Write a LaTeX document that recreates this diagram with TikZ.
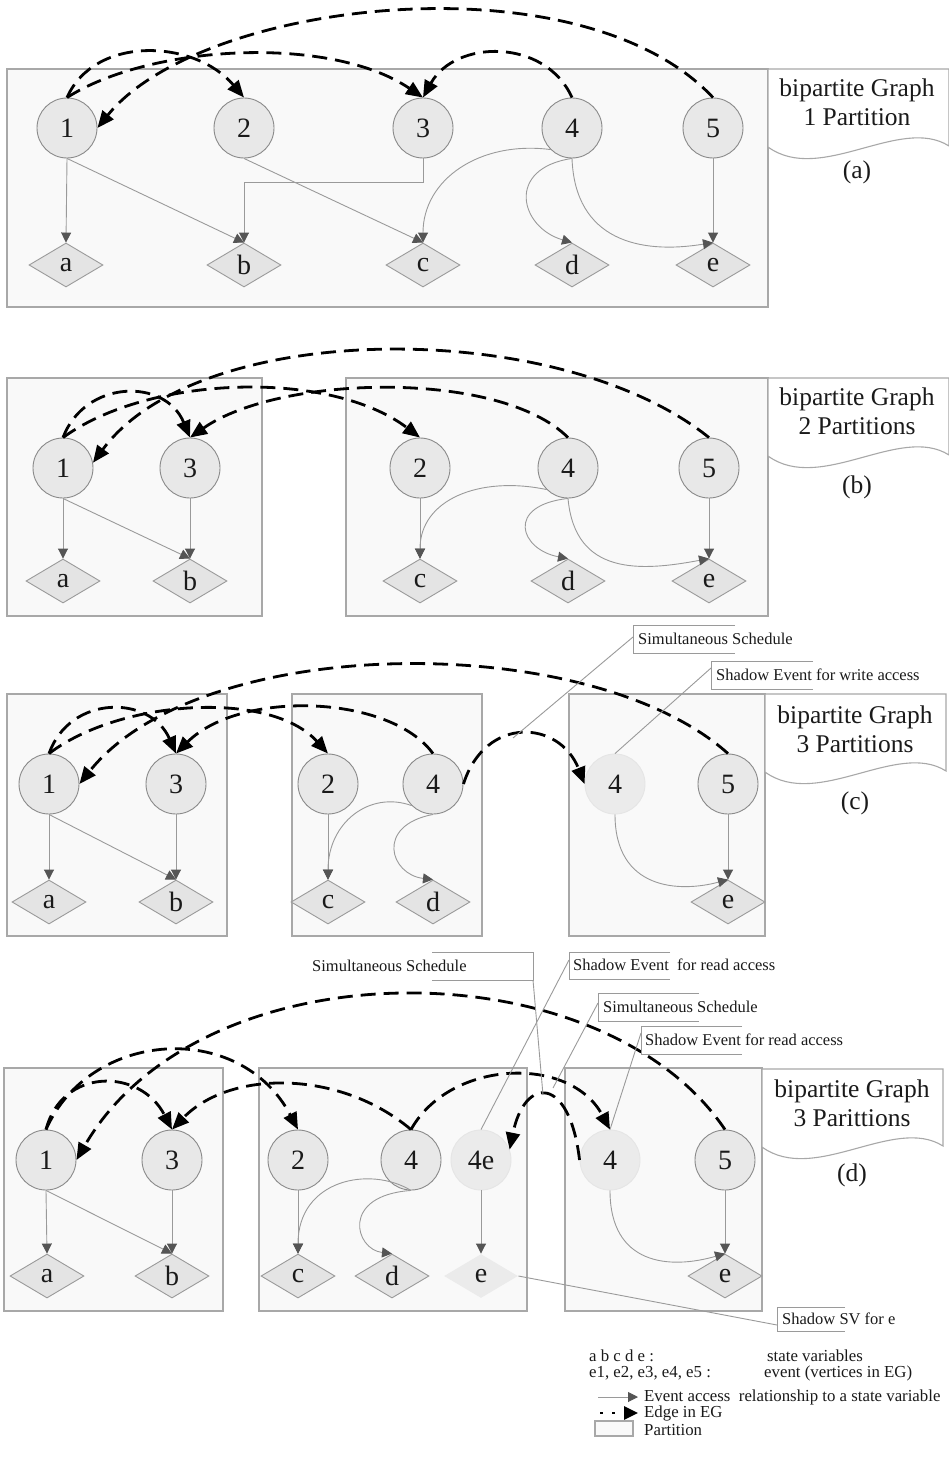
\documentclass[tikz,border=0pt]{standalone}
\usepackage{fontspec}
\setmainfont{Liberation Serif}
\usetikzlibrary{shapes.geometric,arrows.meta}

\definecolor{nodefill}{HTML}{E8E8E8}
\definecolor{nodeline}{HTML}{8A8A8A}
\definecolor{svfill}{HTML}{E4E4E4}
\definecolor{shadowfill}{HTML}{EBEBEB}
\definecolor{partfill}{HTML}{F9F9F9}
\definecolor{partline}{HTML}{A8A8A8}
\definecolor{accline}{HTML}{9A9A9A}
\definecolor{acctip}{HTML}{555555}
\definecolor{inkdark}{HTML}{1A1A1A}

\tikzset{
  event/.style={circle, minimum size=60pt, inner sep=0pt, draw=nodeline, line width=0.9pt,
    fill=nodefill, text=inkdark, font=\fontsize{28}{32}\selectfont},
  shadowevent/.style={event, draw=black!10, fill=shadowfill},
  svar/.style={diamond, minimum width=74pt, minimum height=44pt, inner sep=0pt, draw=accline,
    line width=0.9pt, fill=svfill, text=inkdark, font=\fontsize{28}{32}\selectfont},
  shadowsvar/.style={svar, draw=none, fill=shadowfill},
  partition/.style={draw=partline, line width=1.4pt, fill=partfill},
  banner/.style={draw=partline, line width=1.1pt, fill=white},
  access/.style={draw=accline, line width=0.9pt, -{Triangle[length=10pt,width=10pt,color=acctip]}},
  egedge/.style={draw=black, line width=2.8pt, dash pattern=on 15pt off 8pt,
    -{Triangle[length=17pt,width=14pt]}},
  callout/.style={draw=accline, line width=0.9pt},
  calltext/.style={font=\fontsize{16.5}{20}\selectfont, text=inkdark, inner sep=0pt, anchor=west},
  titletext/.style={font=\fontsize{25.5}{29}\selectfont, align=center, text=inkdark},
  legendtext/.style={font=\fontsize{16.8}{19}\selectfont, text=inkdark, inner sep=0pt, anchor=west},
}

% tape-shaped caption box: left x, right x, top y
\newcommand{\graphbanner}[3]{%
  \draw[banner] (#1,#3) -- (#2,#3) -- (#2,#3+77)
    .. controls ({#2-0.27*(#2-#1)},#3+46) and ({#1+0.29*(#2-#1)},#3+116) .. (#1,#3+78) -- cycle;}

\begin{document}
\begin{tikzpicture}[x=1pt,y=-1pt]
\fill[white] (0,0) rectangle (949,1466);
\useasboundingbox (0,0) rectangle (949,1466);

%% ---------------- (a) one partition ----------------
\draw[partition] (7,69) rectangle (768,307);
\graphbanner{768}{949}{69}
\node[titletext] (Atitle) at (857,102) {bipartite Graph\\1 Partition};
\node[titletext] (Atag) at (857,172) {(a)};

\node[event] (A1) at (67,128) {1};
\node[event] (A2) at (244,128) {2};
\node[event] (A3) at (423,128) {3};
\node[event] (A4) at (572,128) {4};
\node[event] (A5) at (713,128) {5};
\node[svar] (Aa) at (66,265) {a};
\node[svar] (Ab) at (244,265) {b};
\node[svar] (Ac) at (423,265) {c};
\node[svar] (Ad) at (572,265) {d};
\node[svar] (Ae) at (713,265) {e};

\draw[access] (A1.south) -- (Aa.north);
\draw[access] (A1.south) -- (Ab.north);
\draw[access] (A2.south) -- (Ac.north);
\draw[access] (A3.south) -- ++(0,24) -| (Ab.north);
\draw[access] (A4.south west) .. controls +(-71,-9) and +(0,-63) .. (Ac.north);
\draw[access] (A4.south) .. controls +(-67,10) and +(-52,-15) .. (Ad.north);
\draw[access] (A4.south) .. controls +(3,82) and +(-73,12) .. (Ae.north);
\draw[access] (A5.south) -- (Ae.north);

\draw[egedge] (A1.north) .. controls +(28,-63) and +(-49,-58) .. (A2.north);
\draw[egedge] (A1.north) .. controls +(83,-53) and +(-93,-63) .. (A3.north);
\draw[egedge] (A4.north) .. controls +(-27,-60) and +(32,-58) .. (A3.north);
\draw[egedge] (A5.north) .. controls +(-133,-142) and +(103,-128) .. (A1.east);

%% ---------------- (b) two partitions ----------------
\draw[partition] (7,378) rectangle (262,616);
\draw[partition] (346,378) rectangle (768,616);
\graphbanner{768}{949}{378}
\node[titletext] (Btitle) at (857,411) {bipartite Graph\\2 Partitions};
\node[titletext] (Btag) at (857,487) {(b)};

\node[event] (B1) at (63,468) {1};
\node[event] (B3) at (190,468) {3};
\node[event] (B2) at (420,468) {2};
\node[event] (B4) at (568,468) {4};
\node[event] (B5) at (709,468) {5};
\node[svar] (Ba) at (63,581) {a};
\node[svar] (Bb) at (190,581) {b};
\node[svar] (Bc) at (420,581) {c};
\node[svar] (Bd) at (568,581) {d};
\node[svar] (Be) at (709,581) {e};

\draw[access] (B1.south) -- (Ba.north);
\draw[access] (B1.south) -- (Bb.north);
\draw[access] (B3.south) -- (Bb.north);
\draw[access] (B2.south) -- (Bc.north);
\draw[access] (B4.south west) .. controls +(-67,-14) and +(0,-59) .. (Bc.north);
\draw[access] (B4.south) .. controls +(-63,7) and +(-48,-9) .. (Bd.north);
\draw[access] (B4.south) .. controls +(7,77) and +(-69,13) .. (Be.north);
\draw[access] (B5.south) -- (Be.north);

\draw[egedge] (B1.north) .. controls +(22,-58) and +(-25,-60) .. (B3.north);
\draw[egedge] (B1.north) .. controls +(87,-63) and +(-90,-68) .. (B2.north);
\draw[egedge] (B4.north) .. controls +(-68,-68) and +(90,-63) .. (B3.north);
\draw[egedge] (B5.north) .. controls +(-149,-120) and +(107,-145) .. (B1.10);

%% ---------------- (c) three partitions ----------------
\draw[partition] (7,694) rectangle (227,936);
\draw[partition] (292,694) rectangle (482,936);
\draw[partition] (569,694) rectangle (765,936);
\graphbanner{765}{946}{694}
\node[titletext] (Ctitle) at (855,729) {bipartite Graph\\3 Partitions};
\node[titletext] (Ctag) at (855,803) {(c)};

\node[event] (C1) at (49,784) {1};
\node[event] (C3) at (176,784) {3};
\node[event] (C2) at (328,784) {2};
\node[event] (C4) at (433,784) {4};
\node[shadowevent] (C4s) at (615,784) {4};
\node[event] (C5) at (728,784) {5};
\node[svar] (Ca) at (49,902) {a};
\node[svar] (Cb) at (176,902) {b};
\node[svar] (Cc) at (328,902) {c};
\node[svar] (Cd) at (433,902) {d};
\node[svar] (Ce) at (728,902) {e};

\draw[access] (C1.south) -- (Ca.north);
\draw[access] (C1.south) -- (Cb.north);
\draw[access] (C3.south) -- (Cb.north);
\draw[access] (C2.south) -- (Cc.north);
\draw[access] (C4.south west) .. controls +(-42,-15) and +(0,-57) .. (Cc.north);
\draw[access] (C4.south) .. controls +(-58,11) and +(-43,-5) .. (Cd.north);
\draw[access] (C4s.south) .. controls +(0,76) and +(-48,13) .. (Ce.north);
\draw[access] (C5.south) -- (Ce.north);

\draw[egedge] (C1.north) .. controls +(21,-59) and +(-26,-59) .. (C3.north);
\draw[egedge] (C1.north) .. controls +(71,-54) and +(-58,-64) .. (C2.north);
\draw[egedge] (C4.north) .. controls +(-43,-59) and +(64,-64) .. (C3.north);
\draw[egedge] (C5.north) .. controls +(-138,-124) and +(121,-152) .. (C1.east);
\draw[egedge] (C4.east) .. controls +(22,-69) and +(-25,-64) .. (C4s.west);

% callouts
\draw[callout] (735,625) -- (633,625) -- (633,653) -- (735,653);
\node[calltext] (Csim) at (638,639) {Simultaneous Schedule};
\coordinate (CsimA) at (633,637);
\coordinate (CsimT) at (513,738);
\draw[callout] (CsimA) -- (CsimT);
\draw[callout] (813,661) -- (711,661) -- (711,689) -- (813,689);
\node[calltext] (Cwr) at (716,675) {Shadow Event for write access};
\coordinate (CwrA) at (711,668);
\draw[callout] (CwrA) -- (C4s.north);

%% ---------------- (d) three partitions with shadows ----------------
\draw[partition] (4,1068) rectangle (223,1311);
\draw[partition] (259,1068) rectangle (527,1311);
\draw[partition] (565,1068) rectangle (762,1311);
\graphbanner{762}{943}{1069}
\node[titletext] (Dtitle) at (852,1103) {bipartite Graph\\3 Parittions};
\node[titletext] (Dtag) at (852,1175) {(d)};

\node[event] (D1) at (46,1160) {1};
\node[event] (D3) at (172,1160) {3};
\node[event] (D2) at (298,1160) {2};
\node[event] (D4) at (411,1160) {4};
\node[shadowevent] (D4e) at (481,1160) {4e};
\node[shadowevent] (D4s) at (610,1160) {4};
\node[event] (D5) at (725,1160) {5};
\node[svar] (Da) at (47,1276) {a};
\node[svar] (Db) at (172,1276) {b};
\node[svar] (Dc) at (298,1276) {c};
\node[svar] (Dd) at (392,1276) {d};
\node[shadowsvar] (Dse) at (481,1276) {e};
\node[svar] (De) at (725,1276) {e};

\draw[access] (D1.south) -- (Da.north);
\draw[access] (D1.south) -- (Db.north);
\draw[access] (D3.south) -- (Db.north);
\draw[access] (D2.south) -- (Dc.north);
\draw[access] (D4.south) .. controls +(-41,-25) and +(0,-74) .. (Dc.north);
\draw[access] (D4.south) .. controls +(-71,5) and +(-37,-4) .. (Dd.north);
\draw[access] (D4e.south) -- (Dse.north);
\draw[access] (D4s.south) .. controls +(0,75) and +(-55,16) .. (De.north);
\draw[access] (D5.south) -- (De.north);

\draw[egedge] (D1.north) .. controls +(44,-100) and +(-58,-110) .. (D2.north);
\draw[egedge] (D1.north) .. controls +(16,-62) and +(-32,-62) .. (D3.north);
\draw[egedge] (D4.north) .. controls +(-71,-60) and +(58,-60) .. (D3.north);
\draw[egedge] (D5.north) .. controls +(-125,-185) and +(124,-215) .. (D1.east);
\draw[egedge] (D4.north) .. controls +(39,-70) and +(-40,-75) .. (D4s.north);
\draw[egedge] (D4s.west) .. controls +(-10,-85) and +(15,-74) .. (D4e.20);

% callouts
\draw[callout] (432,952) -- (533,952) -- (533,980) -- (432,980);
\node[calltext] (Dsim1) at (312,966) {Simultaneous Schedule};
\coordinate (Dsim1A) at (533,980);
\coordinate (Dsim1T) at (543,1095);
\draw[callout] (Dsim1A) -- (Dsim1T);

\draw[callout] (670,952) -- (569,952) -- (569,979) -- (670,979);
\node[calltext] (Drd1) at (573,965) {Shadow Event\ \ for read access};
\coordinate (Drd1A) at (569,960);
\draw[callout] (Drd1A) -- (D4e.north);

\draw[callout] (699,993) -- (598,993) -- (598,1021) -- (699,1021);
\node[calltext] (Dsim2) at (603,1007) {Simultaneous Schedule};
\coordinate (Dsim2A) at (598,1003);
\coordinate (Dsim2T) at (553,1088);
\draw[callout] (Dsim2A) -- (Dsim2T);

\draw[callout] (742,1026) -- (641,1026) -- (641,1054) -- (742,1054);
\node[calltext] (Drd2) at (645,1040) {Shadow Event for read access};
\coordinate (Drd2A) at (641,1033);
\draw[callout] (Drd2A) -- (D4s.north);

\draw[callout] (845,1307) -- (777,1307) -- (777,1331) -- (845,1331);
\node[calltext] (Dsv) at (782,1319) {Shadow SV for e};
\coordinate (DsvA) at (777,1325);
\draw[callout] (Dse.east) -- (DsvA);

%% ---------------- legend ----------------
\node[legendtext] (Lsv) at (589,1356) {a b c d e :};
\node[legendtext] (Lsvd) at (767,1356) {state variables};
\node[legendtext] (Lev) at (589,1373) {e1, e2, e3, e4, e5 :};
\node[legendtext] (Levd) at (764,1373) {event (vertices in EG)};

\coordinate (Lacc) at (598,1397);
\node[legendtext] (Lacct) at (644,1397) {Event access\ \ relationship to a state variable};
\draw[access] (Lacc) -- ([xshift=-6pt]Lacct.west);

\coordinate (Leg) at (600,1413);
\node[legendtext] (Legt) at (644,1413) {Edge in EG};
\draw[egedge, dash pattern=on 3pt off 9pt, -{Triangle[length=14pt,width=13pt]}] (Leg) -- ([xshift=-6pt]Legt.west);

\draw[partition] (595,1421) rectangle (633,1436);
\node[legendtext] (Lpt) at (644,1430) {Partition};

\end{tikzpicture}
\end{document}
